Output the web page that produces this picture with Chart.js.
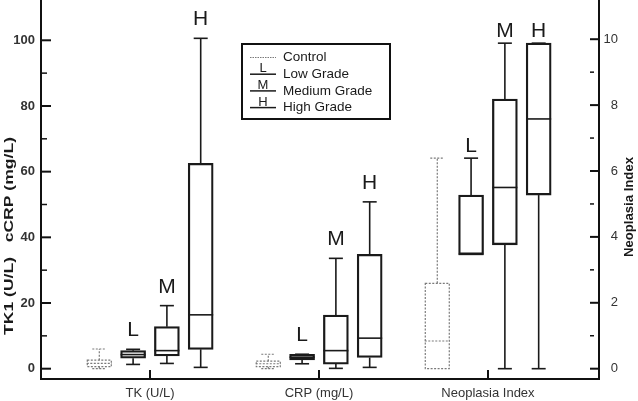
<!DOCTYPE html>
<html>
<head>
<meta charset="utf-8">
<title>TK1, cCRP and Neoplasia Index by grade</title>
<script src="https://cdn.jsdelivr.net/npm/chart.js"></script>
<style>
  html, body { margin: 0; padding: 0; background: #fff; }
</style>
</head>
<body>
<canvas id="myChart" width="638" height="401"></canvas>

<script>
// groups on the x axis; the last one is read on the right axis
const groups = ['TK (U/L)', 'CRP (mg/L)', 'Neoplasia Index'];
const grades = ['Control', 'Low Grade', 'Medium Grade', 'High Grade'];

// [min, q1, median, q3, max] for TK, CRP, Neoplasia Index
const controlStats = [[0, 0.6, 1.6, 2.6, 6.0], [0, 0.6, 1.5, 2.3, 4.4], [0, 0, 0.84, 2.59, 6.39]];
const lowStats = [[1.3, 3.2, 4.3, 5.5, 5.9], [1.5, 2.65, 3.5, 4.4, 4.4], [3.47, 3.47, 3.47, 5.27, 6.39]];
const mediumStats = [[1.6, 3.9, 5.5, 12.8, 19.2], [0.1, 1.4, 5.5, 16.3, 33.6], [0, 3.76, 5.5, 8.18, 9.88]];
const highStats = [[0.4, 5.9, 16.4, 62.5, 100.6], [0.4, 3.4, 9.3, 34.8, 50.8], [0, 5.27, 7.58, 9.88, 9.88]];

const leftTicks = [0, 20, 40, 60, 80, 100];
const leftMinorTicks = [10, 30, 50, 70, 90];
const rightTicks = [0, 2, 4, 6, 8, 10];
const rightMinorTicks = [1, 3, 5, 7, 9];

const FONT = "'Liberation Sans', Arial, sans-serif";
const INK = '#1a1a1a';
// where each grade sits inside its group, in x units
const SLOT = [-0.3, -0.1, 0.1, 0.3];

const allStats = [controlStats, lowStats, mediumStats, highStats];

// one bar dataset per grade and per y axis (TK/CRP on the left, Neoplasia on the right)
const datasets = [];
allStats.forEach((stats, k) => {
    [['y', [0, 1]], ['y2', [2]]].forEach(([axis, idx]) => {
        datasets.push({
            label: grades[k],
            grade: k,
            yAxisID: axis,
            stats: idx.map(g => stats[g]),
            data: idx.map(g => ({ x: g + 1 + SLOT[k], y: [stats[g][1], stats[g][3]] })),
            backgroundColor: 'rgba(0,0,0,0)',
            borderColor: INK,
            borderWidth: k === 0 ? 0 : 1.6,
            borderSkipped: false,
            barThickness: 25,
            grouped: false
        });
    });
});

function line(ctx, x1, y1, x2, y2) {
    ctx.beginPath();
    ctx.moveTo(x1, y1);
    ctx.lineTo(x2, y2);
    ctx.stroke();
}

function rotatedText(ctx, text, x, y, font, length) {
    ctx.save();
    ctx.translate(x, y);
    ctx.rotate(-Math.PI / 2);
    ctx.font = font;
    const w = ctx.measureText(text).width;
    if (length) ctx.scale(length / w, 1);
    ctx.textAlign = 'center';
    ctx.textBaseline = 'middle';
    ctx.fillText(text, 0, 0);
    ctx.restore();
}

// whiskers, medians, dotted control boxes and the L/M/H letters
const boxPlotLines = {
    id: 'boxPlotLines',
    afterDatasetsDraw(chart) {
        const ctx = chart.ctx;
        chart.data.datasets.forEach((ds, i) => {
            const ys = chart.scales[ds.yAxisID];
            chart.getDatasetMeta(i).data.forEach((bar, j) => {
                const [mn, q1, md, q3, mx] = ds.stats[j];
                const x = bar.x, half = bar.width / 2, cap = 7;
                const control = ds.grade === 0;
                const yMin = ys.getPixelForValue(mn), yQ1 = ys.getPixelForValue(q1);
                const yMd = ys.getPixelForValue(md), yQ3 = ys.getPixelForValue(q3);
                const yMax = ys.getPixelForValue(mx);
                ctx.save();
                ctx.strokeStyle = control ? '#7a7a7a' : INK;
                ctx.lineWidth = control ? 1.2 : 1.6;
                ctx.setLineDash(control ? [2, 1.5] : []);
                if (control) {
                    ctx.strokeRect(x - half + 0.5, yQ3, 2 * half - 1, yQ1 - yQ3);
                }
                line(ctx, x - half, yMd, x + half, yMd);
                if (mx > q3) line(ctx, x, yQ3, x, yMax);
                line(ctx, x - cap, yMax, x + cap, yMax);
                if (mn < q1) {
                    line(ctx, x, yQ1, x, yMin);
                    line(ctx, x - cap, yMin, x + cap, yMin);
                }
                if (!control) {
                    ctx.fillStyle = INK;
                    ctx.font = '21px ' + FONT;
                    ctx.textAlign = 'center';
                    ctx.textBaseline = 'alphabetic';
                    ctx.fillText(grades[ds.grade][0], x, yMax - (ds.yAxisID === 'y' ? 13 : 6));
                }
                ctx.restore();
            });
        });
    },
    afterDraw(chart) {
        const ctx = chart.ctx;
        const { x, y, y2 } = chart.scales;
        ctx.save();
        ctx.strokeStyle = '#111';
        // inward tick marks
        ctx.lineWidth = 2;
        leftTicks.forEach(v => line(ctx, 41, y.getPixelForValue(v), 51, y.getPixelForValue(v)));
        rightTicks.forEach(v => line(ctx, 590, y2.getPixelForValue(v), 599, y2.getPixelForValue(v)));
        groups.forEach((g, i) => line(ctx, x.getPixelForValue(i + 1), 370, x.getPixelForValue(i + 1), 379));
        ctx.lineWidth = 1.5;
        leftMinorTicks.forEach(v => line(ctx, 41, y.getPixelForValue(v), 47, y.getPixelForValue(v)));
        rightMinorTicks.forEach(v => line(ctx, 590, y2.getPixelForValue(v), 594, y2.getPixelForValue(v)));

        // axis titles
        ctx.fillStyle = INK;
        rotatedText(ctx, 'TK1 (U/L)   cCRP (mg/L)', 9, 236, 'bold 13px ' + FONT, 198);
        rotatedText(ctx, 'Neoplasia Index', 629, 207, 'bold 13px ' + FONT, 100);

        // legend
        const left = 242, top = 44;
        ctx.lineWidth = 2;
        ctx.strokeRect(left, top, 148, 75);
        grades.forEach((name, k) => {
            const ry = 57.5 + k * 16.7;
            ctx.save();
            if (k === 0) {
                ctx.strokeStyle = '#7a7a7a';
                ctx.lineWidth = 1;
                ctx.setLineDash([1.5, 1]);
            } else {
                ctx.strokeStyle = INK;
                ctx.lineWidth = 1.5;
            }
            line(ctx, 250, ry, 276, ry);
            ctx.restore();
            if (k > 0) {
                ctx.font = '13px ' + FONT;
                ctx.textAlign = 'center';
                ctx.textBaseline = 'alphabetic';
                ctx.fillText(name[0], 263, ry - 2);
            }
            ctx.font = '13.5px ' + FONT;
            ctx.textAlign = 'left';
            ctx.textBaseline = 'middle';
            ctx.fillText(name, 283, ry);
        });
        ctx.restore();
    }
};

const config = {
    type: 'bar',
    data: { datasets: datasets },
    options: {
        responsive: false,
        maintainAspectRatio: false,
        animation: false,
        devicePixelRatio: 1,
        events: [],
        layout: { padding: { top: 0, left: 0, bottom: 0, right: 20 } },
        plugins: {
            legend: { display: false },
            tooltip: { enabled: false }
        },
        scales: {
            x: {
                type: 'linear',
                offset: false,
                min: 0.355,
                max: 3.657,
                grid: { display: false, drawTicks: false },
                border: { display: true, width: 2, color: '#111' },
                afterBuildTicks: s => { s.ticks = groups.map((g, i) => ({ value: i + 1 })); },
                ticks: {
                    autoSkip: false,
                    maxRotation: 0,
                    padding: 7,
                    color: '#333',
                    font: { family: FONT, size: 13 },
                    callback: v => groups[Math.round(v) - 1]
                },
                afterFit: s => { s.height = 22; s.paddingLeft = 0; s.paddingRight = 0; }
            },
            y: {
                position: 'left',
                min: -3.14,
                max: 112.27,
                grid: { display: false, drawTicks: false },
                border: { display: true, width: 2, color: '#111' },
                afterBuildTicks: s => { s.ticks = leftTicks.map(v => ({ value: v })); },
                ticks: {
                    padding: 6,
                    color: '#333',
                    font: { family: FONT, size: 13, weight: 'bold' }
                },
                afterFit: s => { s.width = 41; s.paddingTop = 0; s.paddingBottom = 0; }
            },
            y2: {
                position: 'right',
                min: -0.313,
                max: 11.19,
                grid: { display: false, drawTicks: false },
                border: { display: true, width: 2, color: '#111' },
                afterBuildTicks: s => { s.ticks = rightTicks.map(v => ({ value: v })); },
                ticks: {
                    padding: 5,
                    crossAlign: 'far',
                    color: '#333',
                    font: { family: FONT, size: 13 }
                },
                afterFit: s => { s.width = 19; s.paddingTop = 0; s.paddingBottom = 0; }
            }
        }
    },
    plugins: [boxPlotLines]
};

const myChart = new Chart(document.getElementById('myChart'), config);
</script>
</body>
</html>
